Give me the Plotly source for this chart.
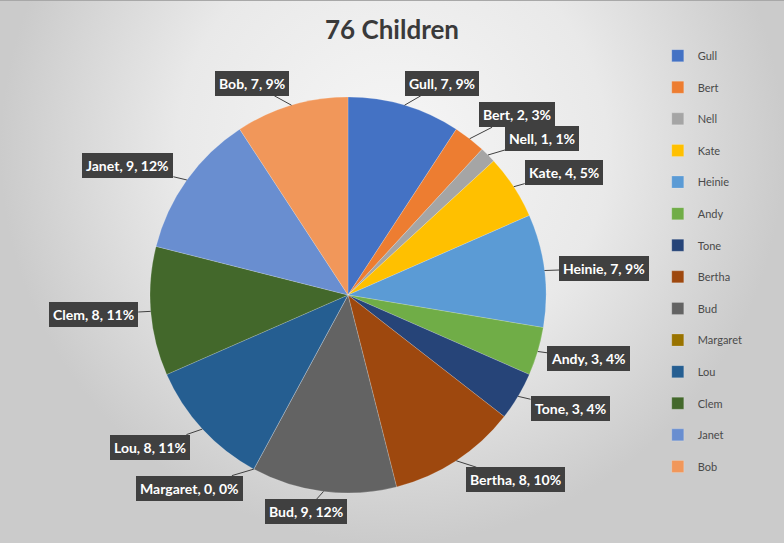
import math
import plotly.graph_objects as go

# ---------------- data ----------------
names = ["Gull", "Bert", "Nell", "Kate", "Heinie", "Andy", "Tone", "Bertha",
         "Bud", "Margaret", "Lou", "Clem", "Janet", "Bob"]
values = [7, 2, 1, 4, 7, 3, 3, 8, 9, 0, 8, 8, 9, 7]
percent_labels = [9, 3, 1, 5, 9, 4, 4, 10, 12, 0, 11, 11, 12, 9]
title_text = "76 Children"

# ---------------- style ----------------
colors = ["#4472C4", "#ED7D31", "#A5A5A5", "#FFC000", "#5B9BD5", "#70AD47",
          "#264478", "#9E480E", "#636363", "#997300", "#255E91", "#43682B",
          "#698ED0", "#F1975A"]
W, H = 784, 543
PIE_CX, PIE_CY, PIE_R = 348, 295, 198          # pixels
# callout box offsets (pixels) from the slice edge point
label_offsets = [(38, -22), (47, -24), (54, -16), (50, -14), (60, -2), (51, 7),
                 (52, 12), (59, 19), (-18, 20), (-64, 19), (-52, 18), (-57, 3),
                 (-59, -14), (-40, -22)]

fig = go.Figure()

# gradient background
fig.add_trace(go.Scatter(
    x=[0, 1, 1, 0, 0], y=[0, 0, 1.45, 1.45, 0], fill="toself", mode="none",
    fillgradient=dict(type="radial",
                      colorscale=[[0, "#f6f6f6"], [0.55, "#e9e9e9"], [1, "#cbcbcb"]]),
    hoverinfo="skip", showlegend=False))

dom_x = [(PIE_CX - PIE_R) / W, (PIE_CX + PIE_R) / W]
dom_y = [1 - (PIE_CY + PIE_R) / H, 1 - (PIE_CY - PIE_R) / H]

fig.add_trace(go.Pie(
    labels=[n + "<br>\u00a0" for n in names],
    values=values,
    customdata=names,
    hovertemplate="%{customdata}: %{value}<extra></extra>",
    sort=False, direction="clockwise", rotation=0,
    textinfo="none",
    marker=dict(colors=colors, line=dict(color="rgba(255,255,255,0.3)", width=0.6)),
    domain=dict(x=dom_x, y=dom_y),
    showlegend=True,
))

# callout labels
total = sum(values)
cum = 0
annotations = []
for name, v, p, (ox, oy) in zip(names, values, percent_labels, label_offsets):
    mid = cum + v / 2
    cum += v
    a = 2 * math.pi * mid / total
    px = PIE_CX + PIE_R * math.sin(a)
    py = PIE_CY - PIE_R * math.cos(a)
    annotations.append(dict(
        x=px / W, y=1 - py / H, xref="paper", yref="paper",
        text=f"{name}, {v}, {p}%",
        showarrow=True, arrowhead=0, arrowwidth=1, arrowcolor="#404040",
        ax=ox, ay=oy, standoff=0,
        font=dict(family="Lato", size=14, color="white", weight="bold"),
        bgcolor="#404040", borderpad=4, borderwidth=0,
    ))

fig.update_layout(
    width=W, height=H,
    margin=dict(l=0, r=0, t=0, b=0),
    paper_bgcolor="#e4e4e4", plot_bgcolor="rgba(0,0,0,0)",
    xaxis=dict(range=[0, 1], visible=False, fixedrange=True),
    yaxis=dict(range=[0, 1], visible=False, fixedrange=True),
    title=dict(text=title_text, x=0.5, xanchor="center", y=1 - 30 / H, yanchor="middle",
               font=dict(family="Lato", size=26, color="#3a3a3a", weight="bold")),
    legend=dict(x=0.839, y=1 - 42 / H, xanchor="left", yanchor="top",
                font=dict(family="Lato", size=11, color="#4a4a4a"),
                bgcolor="rgba(0,0,0,0)", valign="top", traceorder="normal"),
    annotations=annotations,
    shapes=[dict(type="line", xref="paper", yref="paper", x0=0, x1=1, y0=1, y1=1,
                 line=dict(color="#a8a8a8", width=2))],
)

fig.write_html("out.html")
